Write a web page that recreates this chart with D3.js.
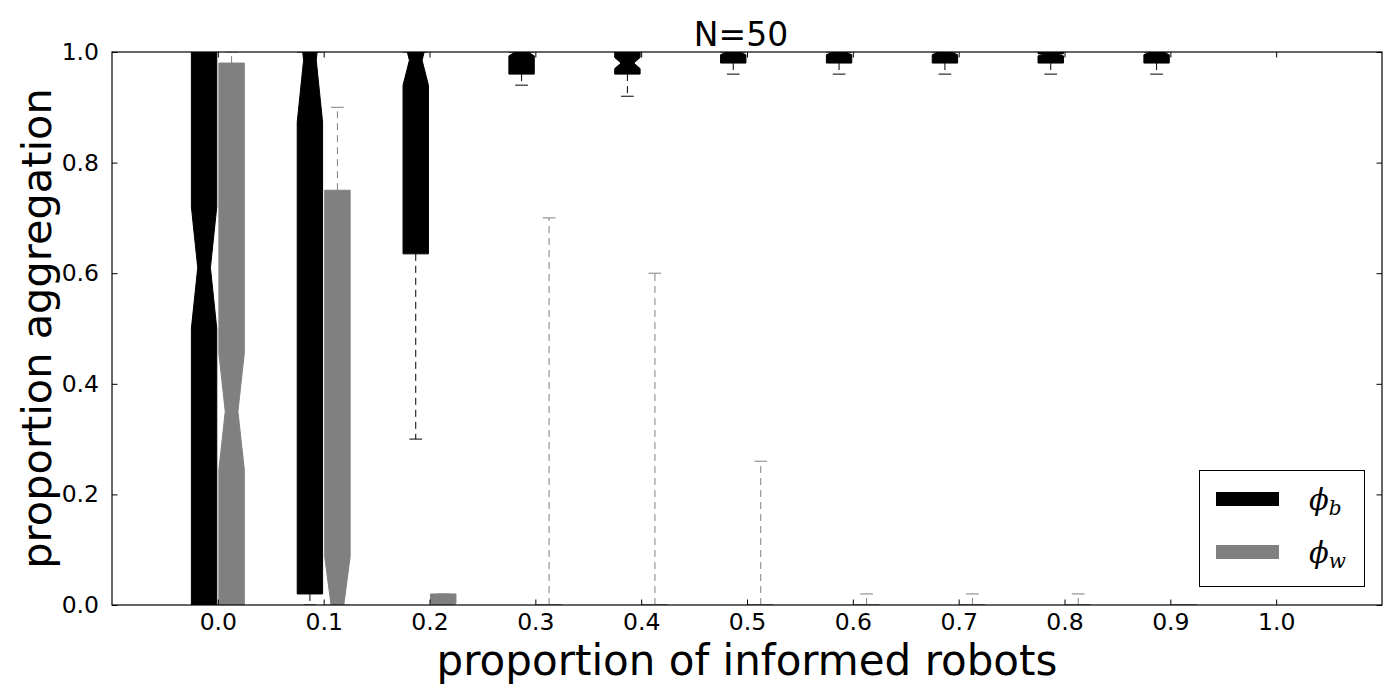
<!DOCTYPE html>
<html><head><meta charset="utf-8">
<script src="https://cdn.jsdelivr.net/npm/d3@7"></script>
<style>body{margin:0;background:#fff;} svg{display:block;} text{font-family:"DejaVu Sans",sans-serif;}</style>
</head><body>
<svg id="chart" width="1400" height="700"></svg>
<script>
// ---- data ----
const categories = [0.0, 0.1, 0.2, 0.3, 0.4, 0.5, 0.6, 0.7, 0.8, 0.9];
const xTickValues = [0.0, 0.1, 0.2, 0.3, 0.4, 0.5, 0.6, 0.7, 0.8, 0.9, 1.0];
const yTickValues = [0.0, 0.2, 0.4, 0.6, 0.8, 1.0];

// phi_b (black)
const phiB_q1      = [0.00, 0.02, 0.635, 0.96, 0.96, 0.98, 0.98, 0.98, 0.98, 0.98];
const phiB_median  = [0.61, 0.985, 0.985, 1.00, 0.98, 1.00, 1.00, 1.00, 0.995, 1.00];
const phiB_q3      = [1.00, 1.00, 1.00, 1.00, 1.00, 1.00, 1.00, 1.00, 1.00, 1.00];
const phiB_notchLo = [0.50, 0.873, 0.94, 0.993, 0.97, 0.995, 0.995, 0.995, 0.993, 0.995];
const phiB_notchHi = [0.72, 1.097, 1.03, 1.007, 0.99, 1.005, 1.005, 1.005, 0.997, 1.005];
const phiB_whisLo  = [0.00, 0.00, 0.30, 0.94, 0.92, 0.96, 0.96, 0.96, 0.96, 0.96];
const phiB_whisHi  = [1.00, 1.00, 1.00, 1.00, 1.00, 1.00, 1.00, 1.00, 1.00, 1.00];

// phi_w (grey)
const phiW_q1      = [0.00, 0.00, 0.00, 0, 0, 0, 0, 0, 0, 0];
const phiW_median  = [0.35, 0.00, 0.00, 0, 0, 0, 0, 0, 0, 0];
const phiW_q3      = [0.98, 0.75, 0.02, 0, 0, 0, 0, 0, 0, 0];
const phiW_notchLo = [0.245, -0.087, 0.00, 0, 0, 0, 0, 0, 0, 0];
const phiW_notchHi = [0.455, 0.087, 0.003, 0, 0, 0, 0, 0, 0, 0];
const phiW_whisLo  = [0, 0, 0, 0, 0, 0, 0, 0, 0, 0];
const phiW_whisHi  = [1.00, 0.90, 0.02, 0.70, 0.60, 0.26, 0.02, 0.02, 0.02, 0.00];

const title = "N=50";
const xLabel = "proportion of informed robots";
const yLabel = "proportion aggregation";

// ---- layout ----
const svg = d3.select("#chart");
const L = 112, R = 1382, T = 52, B = 605;
const x = d3.scaleLinear().domain([-0.1, 1.1]).range([L, R]);
const y = d3.scaleLinear().domain([0, 1]).range([B, T]);
const offset = 0.013, boxW = 0.024;

svg.append("defs").append("clipPath").attr("id", "clip")
  .append("rect").attr("x", L).attr("y", T).attr("width", R - L).attr("height", B - T);

function buildSeries(q1, med, q3, nlo, nhi, wlo, whi, dx) {
  return categories.map((c, i) => ({pos: c + dx, q1: q1[i], med: med[i], q3: q3[i],
    nlo: nlo[i], nhi: nhi[i], wlo: wlo[i], whi: whi[i]}));
}
const series = [
  {color: "#000000", data: buildSeries(phiB_q1, phiB_median, phiB_q3, phiB_notchLo, phiB_notchHi, phiB_whisLo, phiB_whisHi, -offset)},
  {color: "#808080", data: buildSeries(phiW_q1, phiW_median, phiW_q3, phiW_notchLo, phiW_notchHi, phiW_whisLo, phiW_whisHi, offset)}
];

const g = svg.append("g").attr("clip-path", "url(#clip)");
series.forEach(s => {
  s.data.forEach(d => {
    const xl = x(d.pos - boxW / 2), xr = x(d.pos + boxW / 2);
    const cl = x(d.pos - boxW / 4), cr = x(d.pos + boxW / 4);
    const xc = x(d.pos);
    // whiskers
    if (d.whi > d.q3) g.append("line").attr("x1", xc).attr("x2", xc).attr("y1", y(d.q3)).attr("y2", y(d.whi))
      .attr("stroke", s.color).attr("stroke-width", 1).attr("stroke-dasharray", "7,5");
    if (d.wlo < d.q1) g.append("line").attr("x1", xc).attr("x2", xc).attr("y1", y(d.q1)).attr("y2", y(d.wlo))
      .attr("stroke", s.color).attr("stroke-width", 1).attr("stroke-dasharray", "7,5");
    // caps
    [d.whi, d.wlo].forEach(v => {
      g.append("line").attr("x1", cl).attr("x2", cr).attr("y1", y(v)).attr("y2", y(v))
        .attr("stroke", s.color).attr("stroke-width", 1);
    });
    // notched box
    const pts = [[xl, d.q1], [xr, d.q1], [xr, d.nlo], [cr, d.med], [xr, d.nhi], [xr, d.q3],
                 [xl, d.q3], [xl, d.nhi], [cl, d.med], [xl, d.nlo], [xl, d.q1]];
    g.append("path").attr("d", d3.line().x(p => p[0]).y(p => y(p[1]))(pts) + "Z")
      .attr("fill", s.color).attr("stroke", s.color).attr("stroke-width", 1).attr("stroke-linejoin", "miter");
  });
});

// ---- axes ----
const tickLen = 5.5;
const xAxisB = d3.axisBottom(x).tickValues(xTickValues).tickFormat(d3.format(".1f")).tickSizeInner(-tickLen).tickSizeOuter(0).tickPadding(8);
const xAxisT = d3.axisTop(x).tickValues(xTickValues).tickFormat("").tickSizeInner(-tickLen).tickSizeOuter(0);
const yAxisL = d3.axisLeft(y).tickValues(yTickValues).tickFormat(d3.format(".1f")).tickSizeInner(-tickLen).tickSizeOuter(0).tickPadding(13);
const yAxisR = d3.axisRight(y).tickValues(yTickValues).tickFormat("").tickSizeInner(-tickLen).tickSizeOuter(0);

function styleAxis(sel) {
  sel.select(".domain").remove();
  sel.selectAll(".tick line").attr("stroke", "#000").attr("stroke-width", 1);
  sel.selectAll(".tick text").attr("fill", "#000").style("font-size", "23.5px").style("font-family", "DejaVu Sans");
}
svg.append("g").attr("transform", `translate(0,${B})`).call(xAxisB).call(styleAxis);
svg.append("g").attr("transform", `translate(0,${T})`).call(xAxisT).call(styleAxis);
svg.append("g").attr("transform", `translate(${L},0)`).call(yAxisL).call(styleAxis);
svg.append("g").attr("transform", `translate(${R},0)`).call(yAxisR).call(styleAxis);

svg.append("rect").attr("x", L).attr("y", T).attr("width", R - L).attr("height", B - T)
  .attr("fill", "none").attr("stroke", "#000").attr("stroke-width", 1.2);

// ---- labels ----
svg.append("text").attr("x", 741).attr("y", 46).attr("text-anchor", "middle")
  .style("font-size", "33px").text(title);
svg.append("text").attr("x", (L + R) / 2).attr("y", 675).attr("text-anchor", "middle")
  .style("font-size", "42px").text(xLabel);
svg.append("text").attr("transform", `translate(51,${(T + B) / 2}) rotate(-90)`).attr("text-anchor", "middle")
  .style("font-size", "41.5px").text(yLabel);

// ---- legend ----
const lg = svg.append("g");
lg.append("rect").attr("x", 1199.5).attr("y", 470.5).attr("width", 165).attr("height", 116)
  .attr("fill", "#fff").attr("stroke", "#000").attr("stroke-width", 1);
const legendItems = [{color: "#000000", sym: "ϕ", sub: "b"}, {color: "#808080", sym: "ϕ", sub: "w"}];
legendItems.forEach((it, i) => {
  const yc = 499 + i * 53;
  lg.append("rect").attr("x", 1216).attr("y", yc - 7).attr("width", 63).attr("height", 14).attr("fill", it.color);
  const t = lg.append("text").attr("x", 1309).attr("y", yc + 11)
    .style("font-family", "DejaVu Serif").style("font-style", "italic").style("font-size", "29px");
  t.append("tspan").text(it.sym);
  t.append("tspan").attr("dy", 5).style("font-size", "20px").text(it.sub);
});
</script>
</body></html>
